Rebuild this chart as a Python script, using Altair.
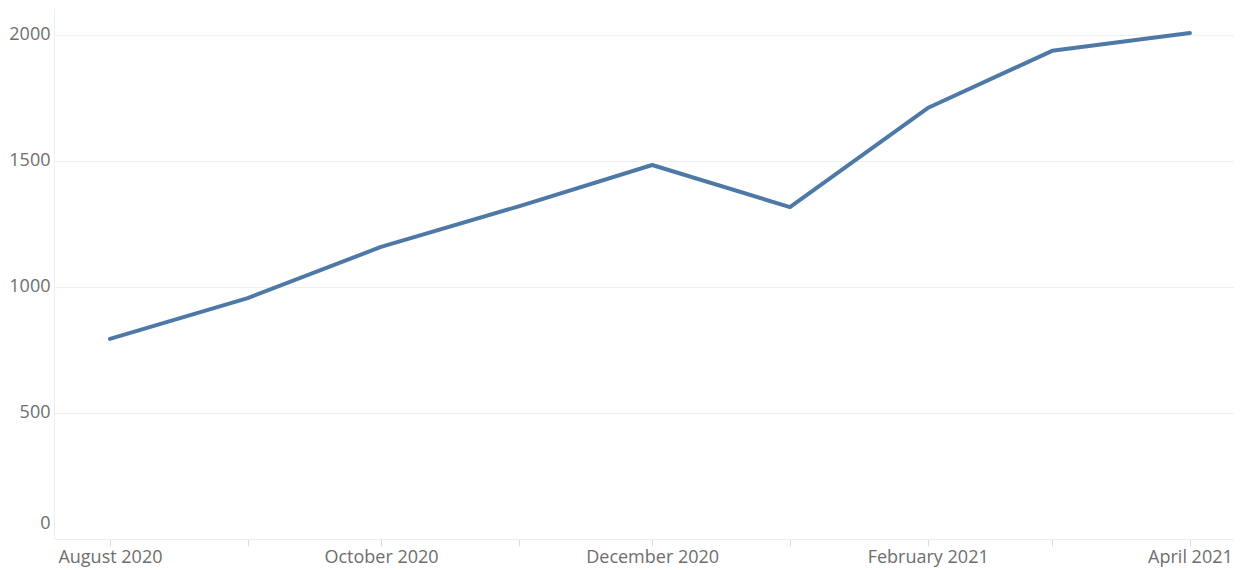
import altair as alt
import pandas as pd

months = ["2020-08-01", "2020-09-01", "2020-10-01", "2020-11-01", "2020-12-01",
          "2021-01-01", "2021-02-01", "2021-03-01", "2021-04-01"]
values = [794, 956, 1159, 1320, 1484, 1317, 1710, 1937, 2008]

df = pd.DataFrame({"month": months, "value": values})

tick_dates = [alt.DateTime(year=int(m[:4]), month=int(m[5:7]), date=1, utc=True) for m in months]

x_axis = alt.Axis(
    title=None,
    values=tick_dates,
    formatType="utc",
    labelExpr="utcmonth(datum.value) % 2 == 1 ? utcFormat(datum.value, '%B %Y') : ''",
    grid=False,
    domainColor="#eeeeee",
    tickColor="#dddddd",
    tickSize=7,
    labelFlush=False,
    labelPadding=2,
    labelColor="#6e6e6e",
    labelFontSize=18,
    labelFont="Open Sans",
)

y_axis = alt.Axis(
    title=None,
    values=[0, 500, 1000, 1500, 2000],
    format="d",
    grid=True,
    gridColor="#f0f0f0",
    domainColor="#eeeeee",
    ticks=False,
    labelFlush=True,
    labelFlushOffset=-7,
    labelPadding=4,
    labelColor="#6e6e6e",
    labelFontSize=18,
    labelFont="Open Sans",
)

chart = alt.Chart(df).mark_line(color="#4e79a7", strokeWidth=4, strokeCap="round", strokeJoin="round").encode(
    x=alt.X("month:T", scale=alt.Scale(type="utc", domain=[
        alt.DateTime(year=2020, month=7, date=19, hours=10, utc=True),
        alt.DateTime(year=2021, month=4, date=10, hours=22, utc=True)]), axis=x_axis),
    y=alt.Y("value:Q", scale=alt.Scale(domain=[0, 2107], nice=False, zero=True), axis=y_axis),
).properties(
    width=1180,
    height=531,
    autosize=alt.AutoSizeParams(type="none"),
    padding={"left": 46, "top": 0, "right": 0, "bottom": 30},
).configure_view(stroke=None)

chart.save("out.html", embed_options={"renderer": "svg", "actions": False})
